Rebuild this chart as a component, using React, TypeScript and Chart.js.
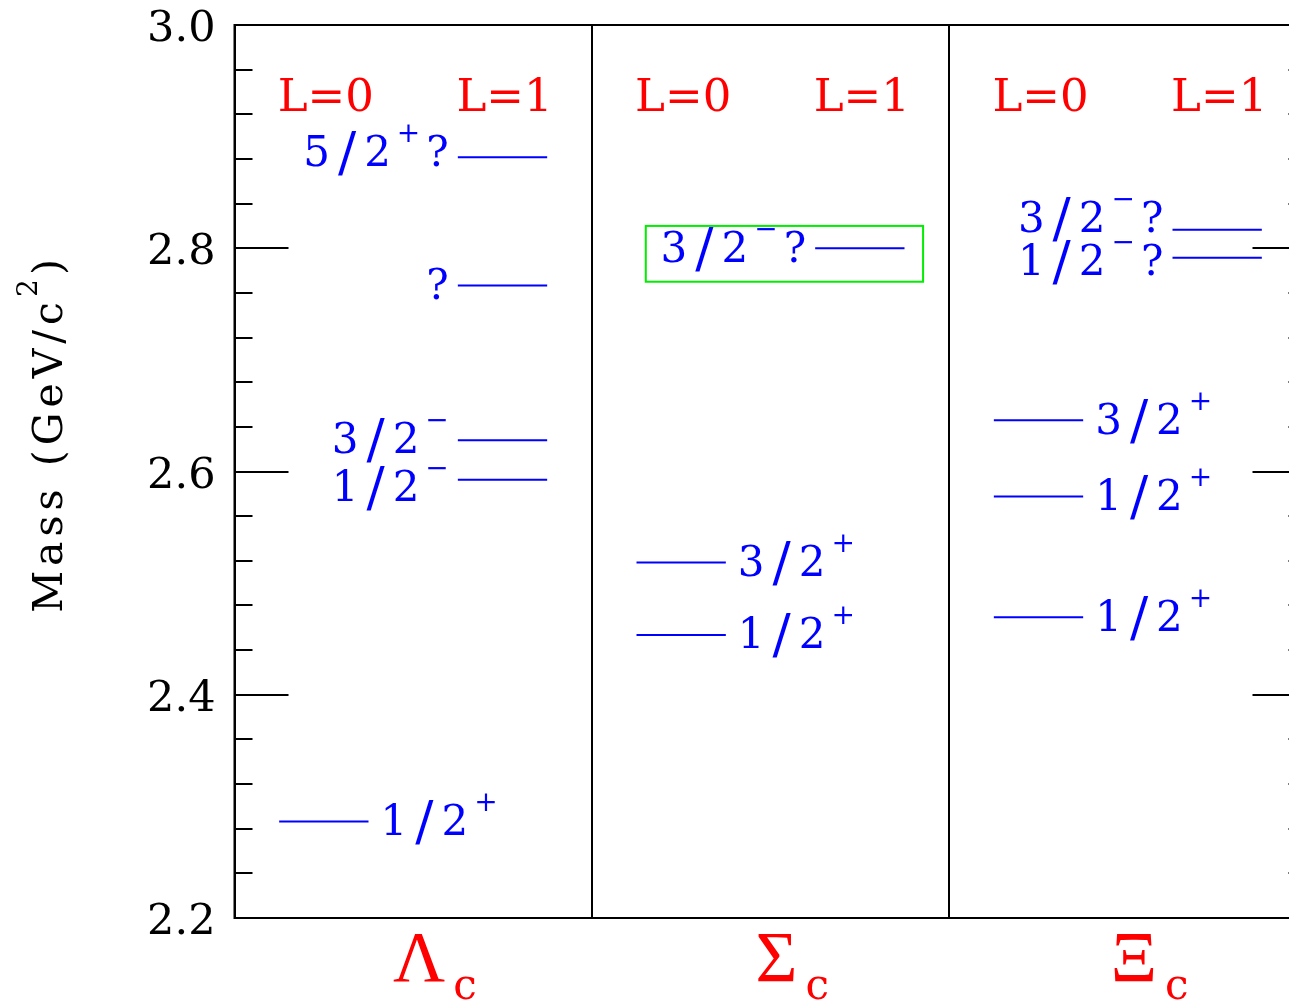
import React, { useEffect, useRef } from "react";
import { Chart, registerables } from "chart.js";

Chart.register(...registerables);

// ---------------- data ----------------
const baryons = ["Λ", "Σ", "Ξ"];
const baryonSub = "c";
const orbitalHeaders = ["L=0", "L=1"];

const lambdaMasses = [2.2865, 2.5925, 2.6281, 2.7666, 2.8816];
const lambdaOrbital = [0, 1, 1, 1, 1];
const lambdaJP = ["1/2^+", "1/2^-", "3/2^-", "?", "5/2^+?"];

const sigmaMasses = [2.4536, 2.5184, 2.8];
const sigmaOrbital = [0, 0, 1];
const sigmaJP = ["1/2^+", "3/2^+", "3/2^-?"];

const xiMasses = [2.4695, 2.5776, 2.6459, 2.7916, 2.8166];
const xiOrbital = [0, 0, 0, 1, 1];
const xiJP = ["1/2^+", "1/2^+", "3/2^+", "1/2^-?", "3/2^-?"];

const yMin = 2.2;
const yMax = 3.0;
const yMajorStep = 0.2;
const yMinorStep = 0.04;

const highlightX = [1.151, 1.927];
const highlightY = [2.77, 2.82];
const headerMass = 2.937;

// ---------------- layout ----------------
// level bar extents inside each panel, per orbital L
const levelSpan = [
  [0.125, 0.375],
  [0.625, 0.875],
];
// small vertical label nudges (px) used to keep crowded labels apart
const lambdaNudge = [0, 8, -1, 0, -5];
const sigmaNudge = [0, 0, 0];
const xiNudge = [0, 0, 0, 4, -11.5];

const panels = [
  { masses: lambdaMasses, orbital: lambdaOrbital, jp: lambdaJP, nudge: lambdaNudge },
  { masses: sigmaMasses, orbital: sigmaOrbital, jp: sigmaJP, nudge: sigmaNudge },
  { masses: xiMasses, orbital: xiOrbital, jp: xiJP, nudge: xiNudge },
];

const SERIF = '"DejaVu Serif", serif';
const BLUE = "#0000ff";
const RED = "#ff0000";

const DIGIT_FONT = `42px ${SERIF}`;
const SLASH_FONT = `54px ${SERIF}`;
const SUP_FONT = `28px ${SERIF}`;
const CHAR_GAP = 8;
const SUP_GAP = 6;

function mainWidth(ctx: CanvasRenderingContext2D, s: string) {
  let w = 0;
  for (let i = 0; i < s.length; i++) {
    ctx.font = s[i] === "/" ? SLASH_FONT : DIGIT_FONT;
    w += ctx.measureText(s[i]).width;
    if (i < s.length - 1) w += CHAR_GAP;
  }
  return w;
}

function drawMain(ctx: CanvasRenderingContext2D, s: string, x: number, base: number) {
  let cx = x;
  for (let i = 0; i < s.length; i++) {
    const isSlash = s[i] === "/";
    ctx.font = isSlash ? SLASH_FONT : DIGIT_FONT;
    ctx.fillText(s[i], cx, isSlash ? base + 5 : base);
    cx += ctx.measureText(s[i]).width + CHAR_GAP;
  }
}

function drawLevelLabel(ctx: CanvasRenderingContext2D, label: string, x: number, yc: number, align: "left" | "right") {
  const m = label.match(/^([^\^]*)(?:\^(.))?(.*)$/) || ["", label, "", ""];
  const main = m[1] || "";
  const sup = m[2] ? (m[2] === "-" ? "\u2212" : m[2]) : "";
  const tail = m[3] || "";
  ctx.save();
  ctx.fillStyle = BLUE;
  ctx.textAlign = "left";
  ctx.textBaseline = "alphabetic";
  const wMain = main ? mainWidth(ctx, main) : 0;
  ctx.font = SUP_FONT;
  const wSup = sup ? ctx.measureText(sup).width : 0;
  ctx.font = DIGIT_FONT;
  const wTail = tail ? ctx.measureText(tail).width : 0;
  const gap1 = sup && main ? SUP_GAP : 0;
  const gap2 = tail && (main || sup) ? SUP_GAP : 0;
  const total = wMain + gap1 + wSup + gap2 + wTail;
  let cx = align === "left" ? x : x - total;
  const base = yc + 15;
  if (main) {
    drawMain(ctx, main, cx, base);
    cx += wMain;
  }
  if (sup) {
    cx += gap1;
    ctx.font = SUP_FONT;
    ctx.fillText(sup, cx, yc - 9);
    cx += wSup;
  }
  if (tail) {
    cx += gap2;
    ctx.font = DIGIT_FONT;
    ctx.fillText(tail, cx, base);
  }
  ctx.restore();
}

const decorPlugin = {
  id: "decor",
  afterDraw(chart: any) {
    const ctx: CanvasRenderingContext2D = chart.ctx;
    const { left, right, top, bottom } = chart.chartArea;
    const xs = chart.scales.x;
    const ys = chart.scales.y;
    const anyCtx = ctx as any;

    // frame
    ctx.save();
    ctx.strokeStyle = "#000";
    ctx.lineWidth = 2;
    ctx.strokeRect(left, top, right - left, bottom - top);

    // inward ticks (left and right)
    const nMinor = Math.round((yMax - yMin) / yMinorStep);
    const perMajor = Math.round(yMajorStep / yMinorStep);
    ctx.beginPath();
    for (let i = 0; i <= nMinor; i++) {
      const v = yMin + i * yMinorStep;
      const py = Math.round(ys.getPixelForValue(v));
      const len = i % perMajor === 0 ? 54 : 18;
      ctx.moveTo(left, py);
      ctx.lineTo(left + len, py);
      ctx.moveTo(right - len, py);
      ctx.lineTo(right, py);
    }
    ctx.stroke();
    ctx.restore();

    // L headers
    ctx.save();
    ctx.fillStyle = RED;
    ctx.font = `45px ${SERIF}`;
    ctx.textAlign = "center";
    ctx.textBaseline = "alphabetic";
    const hy = ys.getPixelForValue(headerMass) + 16;
    for (let p = 0; p < baryons.length; p++) {
      for (let k = 0; k < orbitalHeaders.length; k++) {
        const cxv = p + (levelSpan[k][0] + levelSpan[k][1]) / 2;
        ctx.fillText(orbitalHeaders[k], xs.getPixelForValue(cxv) + 2, hy);
      }
    }
    ctx.restore();

    // level labels
    panels.forEach((panel, p) => {
      panel.masses.forEach((mass, j) => {
        const L = panel.orbital[j];
        const yc = ys.getPixelForValue(mass) - 1.5 + panel.nudge[j];
        if (L === 0) {
          drawLevelLabel(ctx, panel.jp[j], xs.getPixelForValue(p + levelSpan[0][1]) + 12, yc, "left");
        } else {
          drawLevelLabel(ctx, panel.jp[j], xs.getPixelForValue(p + levelSpan[1][0]) - 9, yc, "right");
        }
      });
    });

    // highlight box
    ctx.save();
    ctx.strokeStyle = "#00ee00";
    ctx.lineWidth = 2;
    const bx0 = xs.getPixelForValue(highlightX[0]);
    const bx1 = xs.getPixelForValue(highlightX[1]);
    const by0 = ys.getPixelForValue(highlightY[1]);
    const by1 = ys.getPixelForValue(highlightY[0]);
    ctx.strokeRect(bx0, by0, bx1 - bx0, by1 - by0);
    ctx.restore();

    // baryon names
    ctx.save();
    ctx.fillStyle = RED;
    ctx.textBaseline = "alphabetic";
    for (let p = 0; p < baryons.length; p++) {
      const cxp = xs.getPixelForValue(p + 0.5) + 6;
      ctx.font = `72px "Liberation Serif", serif`;
      ctx.textAlign = "center";
      const w = ctx.measureText(baryons[p]).width;
      ctx.fillText(baryons[p], cxp, bottom + 63);
      ctx.font = `42px ${SERIF}`;
      ctx.textAlign = "left";
      ctx.fillText(baryonSub, cxp + w / 2 + 8, bottom + 81);
    }
    ctx.restore();

    // y axis title
    ctx.save();
    ctx.fillStyle = "#000";
    ctx.textBaseline = "alphabetic";
    ctx.textAlign = "left";
    ctx.translate(54, (top + bottom) / 2 - 38);
    ctx.rotate(-Math.PI / 2);
    const t1 = "Mass (GeV/c";
    const t2 = "2";
    const t3 = ")";
    ctx.font = `41px ${SERIF}`;
    anyCtx.letterSpacing = "5px";
    const w1 = ctx.measureText(t1).width;
    const w3 = ctx.measureText(t3).width;
    anyCtx.letterSpacing = "0px";
    ctx.font = `28px ${SERIF}`;
    const w2 = ctx.measureText(t2).width;
    const tot = w1 + w2 + 4 + w3;
    let tx = -tot / 2;
    ctx.font = `41px ${SERIF}`;
    anyCtx.letterSpacing = "5px";
    ctx.fillText(t1, tx, 0);
    tx += w1;
    anyCtx.letterSpacing = "0px";
    ctx.font = `28px ${SERIF}`;
    ctx.fillText(t2, tx, -25);
    tx += w2 + 4;
    ctx.font = `41px ${SERIF}`;
    anyCtx.letterSpacing = "5px";
    ctx.fillText(t3, tx, 0);
    anyCtx.letterSpacing = "0px";
    ctx.restore();
  },
};

function buildLevelPoints() {
  const pts: { x: number; y: number | null }[] = [];
  panels.forEach((panel, p) => {
    panel.masses.forEach((mass, j) => {
      const span = levelSpan[panel.orbital[j]];
      pts.push({ x: p + span[0], y: mass });
      pts.push({ x: p + span[1], y: mass });
      pts.push({ x: p + span[1], y: null });
    });
  });
  return pts;
}

export default function App() {
  const ref = useRef<HTMLCanvasElement | null>(null);
  useEffect(() => {
    if (!ref.current) return;
    const chart = new Chart(ref.current, {
      type: "line",
      data: {
        datasets: [
          {
            data: buildLevelPoints() as any,
            borderColor: BLUE,
            borderWidth: 2,
            pointRadius: 0,
            fill: false,
            tension: 0,
            spanGaps: false,
          },
        ],
      },
      options: {
        animation: false,
        responsive: false,
        maintainAspectRatio: false,
        events: [],
        layout: { padding: { top: 17, bottom: 82, left: 0, right: 11.5 } },
        plugins: { legend: { display: false }, tooltip: { enabled: false } },
        scales: {
          x: {
            type: "linear",
            min: 0,
            max: baryons.length,
            ticks: { display: false, stepSize: 1 },
            grid: { color: "#000", lineWidth: 2, drawTicks: false },
            border: { display: false },
            afterFit: (s: any) => {
              s.height = 0;
              s.paddingLeft = 0;
              s.paddingRight = 0;
            },
          },
          y: {
            type: "linear",
            min: yMin,
            max: yMax,
            ticks: {
              stepSize: yMajorStep,
              callback: (v: any) => Number(v).toFixed(1),
              color: "#000",
              font: { family: "DejaVu Serif", size: 43, lineHeight: 0.6 },
              padding: 19,
              labelOffset: 5,
            },
            grid: { display: false, drawTicks: false },
            border: { display: false },
            afterFit: (s: any) => {
              s.width = 226.5;
              s.paddingTop = 0;
              s.paddingBottom = 0;
            },
          },
        },
      },
      plugins: [decorPlugin],
    } as any);
    return () => chart.destroy();
  }, []);
  return (
    <div style={{ position: "fixed", left: 8, top: 8, width: 1281, height: 992, overflow: "hidden", background: "#fff" }}>
      <canvas ref={ref} width={1310} height={992} style={{ display: "block", width: 1310, height: 992 }} />
    </div>
  );
}
